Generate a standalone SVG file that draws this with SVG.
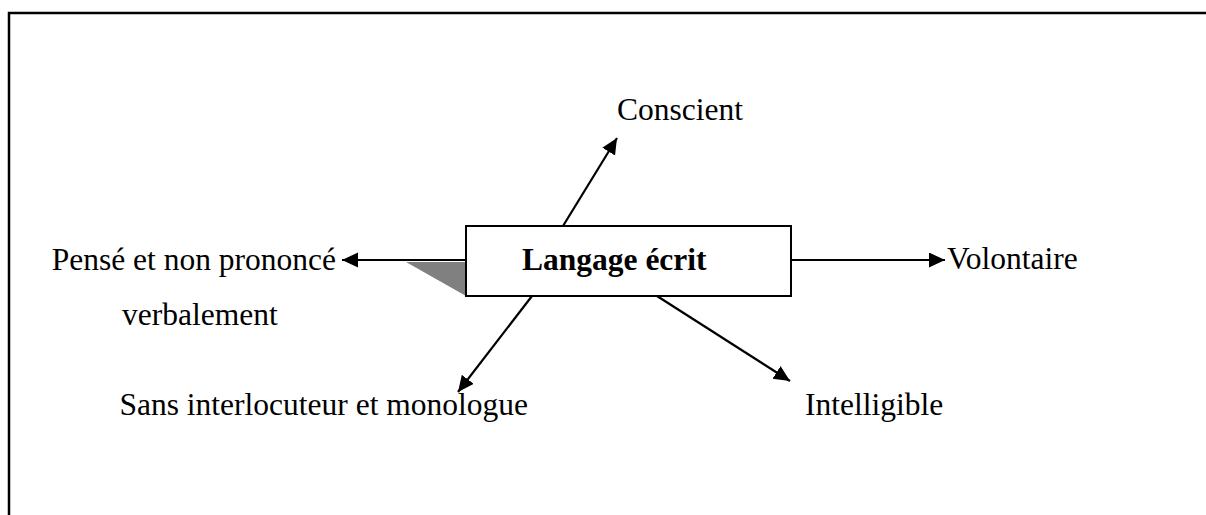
<svg xmlns="http://www.w3.org/2000/svg" width="1206" height="515" viewBox="0 0 1206 515">
<style>
.t{font-family:"Liberation Serif","Times New Roman",serif;font-size:31.5px;fill:#000}
.b{font-weight:bold}
.c{stroke:#000;stroke-width:2.2;fill:none}
</style>
<defs>
<marker id="ah" markerUnits="userSpaceOnUse" markerWidth="18" markerHeight="16" refX="16" refY="7.5" orient="auto">
<path d="M0,0 L16,7.5 L0,15 Z" fill="#000"/>
</marker>
</defs>
<rect width="1206" height="515" fill="#fff"/>
<g id="frame">
<path d="M9,515 V13 H1206" fill="none" stroke="#000" stroke-width="2.5"/>
</g>
<g id="center">
<polygon points="406,262 466,262 466,296" fill="#808080"/>
<rect x="466" y="226" width="325" height="70" fill="#fff" stroke="#000" stroke-width="2"/>
<text class="t b" x="522" y="270">Langage écrit</text>
</g>
<g id="connectors">
<line class="c" x1="466" y1="260" x2="342" y2="260" marker-end="url(#ah)"/>
<line class="c" x1="791" y1="260" x2="945" y2="260" marker-end="url(#ah)"/>
<line class="c" x1="563" y1="226" x2="617" y2="138" marker-end="url(#ah)"/>
<line class="c" x1="532" y1="296" x2="458" y2="392" marker-end="url(#ah)"/>
<line class="c" x1="657" y1="296" x2="790" y2="381" marker-end="url(#ah)"/>
</g>
<g id="n-conscient"><text class="t" x="617" y="120">Conscient</text></g>
<g id="n-pense"><text class="t" x="336" y="270" text-anchor="end">Pensé et non prononcé</text><text class="t" x="122" y="325">verbalement</text></g>
<g id="n-volontaire"><text class="t" x="947" y="269">Volontaire</text></g>
<g id="n-sans"><text class="t" x="528" y="415" text-anchor="end">Sans interlocuteur et monologue</text></g>
<g id="n-intelligible"><text class="t" x="805" y="415">Intelligible</text></g>
</svg>
